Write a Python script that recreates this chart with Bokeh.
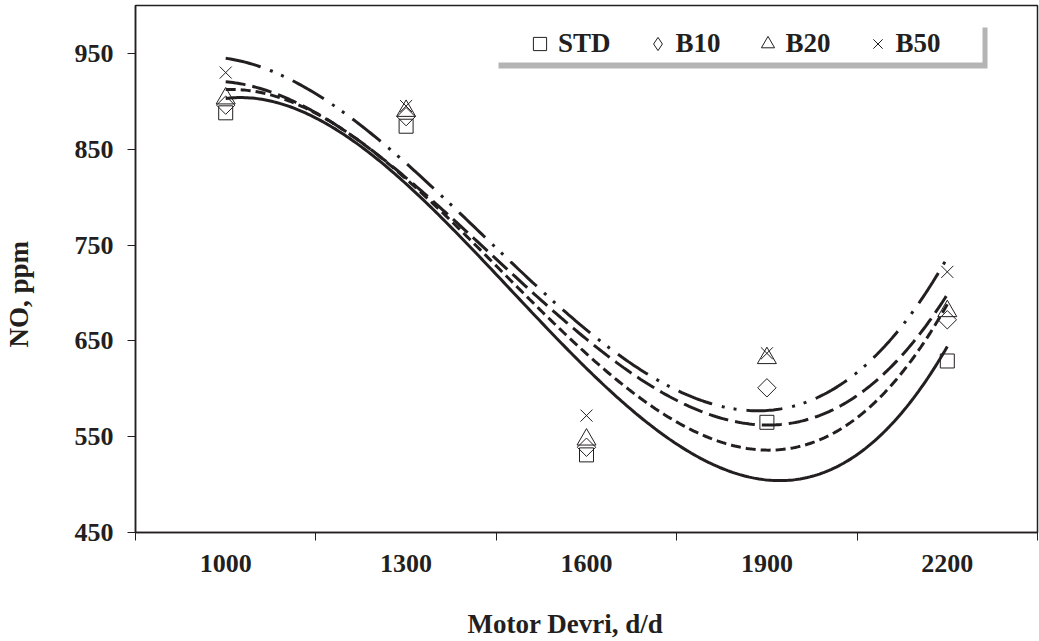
import numpy as np
from bokeh.plotting import figure
from bokeh.models import Range1d, FixedTicker, Legend, LegendItem, Title, BoxAnnotation
from bokeh.embed import file_html
from bokeh.resources import INLINE

# ---- data ----
categories = ["1000", "1300", "1600", "1900", "2200"]
std = [888, 874, 531, 565, 629]
b10 = [896, 884, 539, 601, 672]
b20 = [903, 890, 547, 632, 681]
b50 = [930, 895, 572, 637, 722]
y_ticks = [450, 550, 650, 750, 850, 950]

INK = "#231f20"
FONT = "Liberation Serif"

W, H = 1039, 641
p = figure(width=W, height=H, output_backend="svg", toolbar_location=None,
           x_range=Range1d(-0.5, len(categories) - 0.5), y_range=Range1d(450, 1000),
           min_border_left=135, min_border_right=2, min_border_top=5, min_border_bottom=109)
p.grid.visible = False
p.outline_line_color = INK
p.outline_line_width = 1.5
p.background_fill_color = "white"
p.border_fill_color = "white"

xi = list(range(len(categories)))

# x axis: labels at category centres, tick marks at boundaries
p.xaxis.ticker = FixedTicker(ticks=xi, minor_ticks=[i - 0.5 for i in range(len(categories) + 1)])
p.xaxis.major_label_overrides = {i: c for i, c in zip(xi, categories)}
p.xaxis.major_tick_out = 0
p.xaxis.major_tick_in = 0
p.xaxis.minor_tick_out = 8
p.xaxis.minor_tick_in = 0
p.xaxis.minor_tick_line_color = INK
p.xaxis.major_label_standoff = 14

p.yaxis.ticker = FixedTicker(ticks=y_ticks)
p.yaxis.minor_tick_line_color = None
p.yaxis.major_tick_out = 8
p.yaxis.major_tick_in = 0
p.yaxis.major_label_standoff = 14

for ax in (p.xaxis, p.yaxis):
    ax.axis_line_color = INK
    ax.axis_line_width = 1.5
    ax.major_tick_line_color = INK
    ax.major_label_text_font = FONT
    ax.major_label_text_font_style = "bold"
    ax.major_label_text_font_size = "26px"
    ax.major_label_text_color = INK

# trendlines (3rd order polynomial fit, as in the original)
xs = np.linspace(0, len(categories) - 1, 300)
styles = [(std, "solid"), (b10, "10 5"), (b20, "20 7"), (b50, "36 10 3 9 3 10")]
for ys, dash in styles:
    coef = np.polyfit(xi, ys, 3)
    p.line(xs, np.polyval(coef, xs), line_color=INK, line_width=3, line_dash=dash)

# legend shadow + box
p.add_layout(BoxAnnotation(left=363, right=852, top=505, bottom=464,
                           left_units="screen", right_units="screen", top_units="screen", bottom_units="screen",
                           fill_color="#b4b4b4", fill_alpha=1.0, line_color=None, level="overlay"))
p.add_layout(BoxAnnotation(left=358, right=847, top=510, bottom=470,
                           left_units="screen", right_units="screen", top_units="screen", bottom_units="screen",
                           fill_color="white", fill_alpha=1.0, line_color=None, level="overlay"))

r_std = p.scatter(xi, std, marker="square", size=14, fill_color=None, line_color=INK, line_width=1)
r_b10 = p.scatter(xi, b10, marker="square", size=13, angle=np.pi / 4, fill_color=None, line_color=INK, line_width=1)
r_b20 = p.scatter(xi, b20, marker="triangle", size=19, fill_color=None, line_color=INK, line_width=1)
r_b50 = p.scatter(xi, b50, marker="x", size=17, fill_color=None, line_color=INK, line_width=1)
# legend-only swatch for the diamond (legend ignores marker angle)
r_b10_key = p.scatter(xi, b10, marker="diamond", size=13, fill_color=None, line_color=INK, line_width=1,
                      visible=False)

legend = Legend(items=[LegendItem(label="STD", renderers=[r_std]),
                       LegendItem(label="B10", renderers=[r_b10_key]),
                       LegendItem(label="B20", renderers=[r_b20]),
                       LegendItem(label="B50", renderers=[r_b50])],
                orientation="horizontal", location=(388, 472),
                background_fill_alpha=0, border_line_color=None,
                label_text_font=FONT, label_text_font_style="bold", label_text_font_size="27px",
                label_text_color=INK, glyph_width=33, glyph_height=33, label_standoff=2,
                label_width=10, spacing=30, padding=2, margin=0)
p.add_layout(legend)

# spacers between axes and their titles, then the titles
p.add_layout(Title(text=" ", text_font_size="1px", standoff=35), "left")
p.add_layout(Title(text="NO, ppm", align="left", offset=185, standoff=0,
                   text_font=FONT, text_font_style="bold", text_font_size="27px", text_color=INK), "left")
p.add_layout(Title(text=" ", text_font_size="1px", standoff=29), "below")
p.add_layout(Title(text="Motor Devri, d/d", align="left", offset=332, standoff=0,
                   text_font=FONT, text_font_style="bold", text_font_size="27px", text_color=INK), "below")

open("out.html", "w").write(file_html(p, INLINE))
